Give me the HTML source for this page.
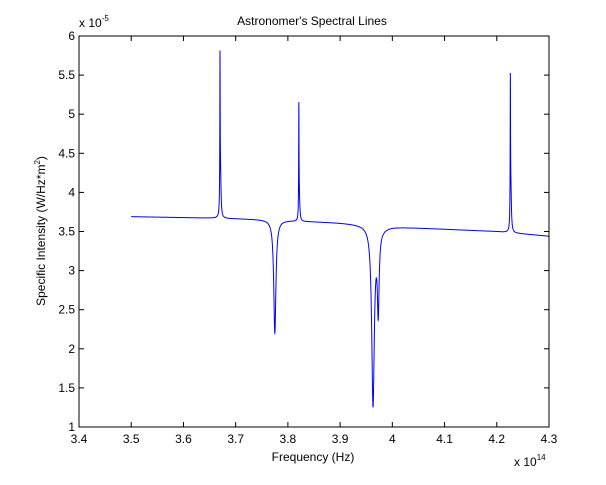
<!DOCTYPE html>
<html><head><meta charset="utf-8"><style>
body{margin:0;background:#fff;}
svg text{font-family:"Liberation Sans",Arial,sans-serif;fill:#000;}
</style></head><body>
<svg id="chart" width="606" height="480">
<rect x="0" y="0" width="606" height="480" fill="#fff"/>
<g id="axes"></g>
</svg>
<script>
// continuum knots (freq in 1e14 Hz, intensity in 1e-5)
const contFreq = [3.5, 3.67, 3.77, 3.9, 3.962, 3.964, 4.0, 4.2, 4.3];
const contVal  = [3.69, 3.67, 3.65, 3.61, 3.58, 3.55, 3.56, 3.5, 3.44];
// spectral lines: centers, amplitudes (negative = absorption), widths
const lineCenter = [3.670, 3.671, 3.775, 3.821, 3.822, 3.963, 3.973, 4.226, 4.227];
const lineAmp    = [1.85, 0.5, -1.45, 1.38, 0.25, -2.27, -1.0, 1.75, 0.5];
const lineWidth  = [0.0004, 0.0012, 0.0025, 0.0004, 0.0012, 0.003, 0.002, 0.0004, 0.0012];
const xTicks = [3.4,3.5,3.6,3.7,3.8,3.9,4,4.1,4.2,4.3];
const xTickLabels = ["3.4","3.5","3.6","3.7","3.8","3.9","4","4.1","4.2","4.3"];
const yTicks = [1,1.5,2,2.5,3,3.5,4,4.5,5,5.5,6];
const yTickLabels = ["1","1.5","2","2.5","3","3.5","4","4.5","5","5.5","6"];

const L=79,R=549,T=36,B=427;
const sx=v=>L+(v-3.4)/0.9*(R-L);
const sy=v=>B-(v-1)/5*(B-T);
const NS="http://www.w3.org/2000/svg";
const g=document.getElementById('axes');
function mk(tag,attrs,parent){const e=document.createElementNS(NS,tag);for(const k in attrs)e.setAttribute(k,attrs[k]);(parent||g).appendChild(e);return e;}
function cont(x){for(let i=0;i<contFreq.length-1;i++){if(x<=contFreq[i+1]){const t=(x-contFreq[i])/(contFreq[i+1]-contFreq[i]);return contVal[i]+t*(contVal[i+1]-contVal[i]);}}return contVal[contVal.length-1];}
let pts=[];
for(let x=3.5;x<=4.3001;x+=0.0001){let y=cont(x);for(let i=0;i<lineCenter.length;i++){const w=lineWidth[i],d=x-lineCenter[i];y+=lineAmp[i]*w*w/(d*d+w*w);}pts.push(sx(x).toFixed(2)+','+sy(y).toFixed(2));}
const clip=mk('clipPath',{id:'pc'});mk('rect',{x:L,y:T,width:R-L,height:B-T},clip);
const line=mk('polyline',{points:pts.join(' '),fill:'none',stroke:'#0000ff','stroke-width':1,'clip-path':'url(#pc)'});


const box=mk('rect',{x:L,y:T,width:R-L,height:B-T,fill:'none',stroke:'#000','stroke-width':1});


xTicks.forEach((v,i)=>{const x=sx(v);
mk('line',{x1:x,x2:x,y1:B,y2:B-5,stroke:'#000'});mk('line',{x1:x,x2:x,y1:T,y2:T+5,stroke:'#000'});
const t=mk('text',{x:x,y:B+16,'text-anchor':'middle','font-size':12});t.textContent=xTickLabels[i];

});
yTicks.forEach((v,i)=>{const y=sy(v);
mk('line',{x1:L,x2:L+5,y1:y,y2:y,stroke:'#000'});mk('line',{x1:R,x2:R-5,y1:y,y2:y,stroke:'#000'});
const t=mk('text',{x:L-4,y:y+4,'text-anchor':'end','font-size':12});t.textContent=yTickLabels[i];

});
</script>
<svg width="606" height="480" style="position:absolute;left:0;top:0">
<text x="312" y="25" text-anchor="middle" font-size="12">Astronomer's Spectral Lines</text>
<text x="313" y="461" text-anchor="middle" font-size="12">Frequency (Hz)</text>
<text transform="translate(45,231) rotate(-90)" text-anchor="middle" font-size="12">Specific Intensity (W/Hz*m<tspan font-size="8" dy="-5">2</tspan><tspan dy="5">)</tspan></text>
<text x="79" y="27" font-size="12">x 10<tspan font-size="8" dy="-6">-5</tspan></text>
<text x="514" y="466" font-size="12">x 10<tspan font-size="8" dy="-6">14</tspan></text>
</svg>
</body></html>
